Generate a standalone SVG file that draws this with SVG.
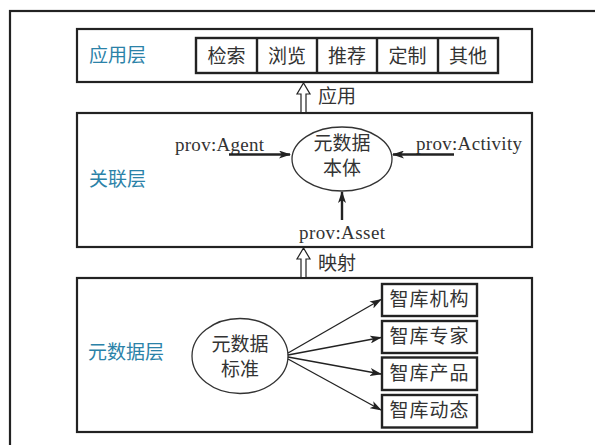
<svg xmlns="http://www.w3.org/2000/svg" width="595" height="445" viewBox="0 0 595 445">
<style>
.frame{fill:none;stroke:#222;stroke-width:2.2}
.box{fill:#fff;stroke:#222;stroke-width:2.4}
.ell{fill:#fff;stroke:#333;stroke-width:1.3}
.cn{font-family:"Noto Sans CJK SC","Noto Sans CJK JP",sans-serif;font-size:19px;fill:#333}
.layer{font-family:"Noto Sans CJK SC","Noto Sans CJK JP",sans-serif;font-size:19px;fill:#2b82a8}
.en{font-family:"Liberation Serif",serif;font-size:19px;fill:#333}
.thick{stroke:#222;stroke-width:2.4;fill:none}
.thin{stroke:#222;stroke-width:1.3;fill:none}
.hollow{fill:#fff;stroke:#222;stroke-width:1.2}
</style>
<defs>
<marker id="ah" viewBox="0 0 12 8" refX="11" refY="4" markerWidth="12" markerHeight="8" markerUnits="userSpaceOnUse" orient="auto">
<path d="M0,0 L12,4 L0,8 L3,4 z" fill="#222"/>
</marker>
</defs>
<rect x="10" y="11" width="600" height="450" class="frame"/>

<g id="app-layer">
<rect x="77" y="29" width="455" height="53" class="frame"/>
<text x="89" y="62" class="layer">应用层</text>
</g>
<g id="app-items">
<rect x="196" y="38" width="302" height="35" class="box"/>
<line x1="257" y1="38" x2="257" y2="73" class="thick"/>
<line x1="317" y1="38" x2="317" y2="73" class="thick"/>
<line x1="377" y1="38" x2="377" y2="73" class="thick"/>
<line x1="438" y1="38" x2="438" y2="73" class="thick"/>
<text x="226.5" y="62.5" class="cn" text-anchor="middle">检索</text>
<text x="287" y="62.5" class="cn" text-anchor="middle">浏览</text>
<text x="347" y="62.5" class="cn" text-anchor="middle">推荐</text>
<text x="407.5" y="62.5" class="cn" text-anchor="middle">定制</text>
<text x="468" y="62.5" class="cn" text-anchor="middle">其他</text>
</g>

<g id="relation-layer">
<rect x="77" y="113" width="455" height="134" class="frame"/>
<text x="89" y="186" class="layer">关联层</text>
</g>
<g id="ontology">
<ellipse cx="342" cy="159" rx="50" ry="32" class="ell"/>
<text x="342" y="150" class="cn" text-anchor="middle">元数据</text>
<text x="342" y="175" class="cn" text-anchor="middle">本体</text>
</g>
<g id="prov-agent"><text x="175" y="151" class="en" textLength="89">prov:Agent</text></g>
<g id="prov-activity"><text x="416" y="150" class="en" textLength="106">prov:Activity</text></g>
<g id="prov-asset"><text x="299" y="239" class="en" textLength="86">prov:Asset</text></g>

<g id="meta-layer">
<rect x="77" y="278" width="455" height="154" class="frame"/>
<text x="88" y="359" class="layer">元数据层</text>
</g>
<g id="standard">
<ellipse cx="240" cy="356" rx="48" ry="37.5" class="ell"/>
<text x="240" y="351" class="cn" text-anchor="middle">元数据</text>
<text x="240" y="376" class="cn" text-anchor="middle">标准</text>
</g>
<g id="t1"><rect x="382" y="284" width="95" height="32" class="box"/><text x="429.5" y="306" class="cn" text-anchor="middle" letter-spacing="1">智库机构</text></g>
<g id="t2"><rect x="382" y="321" width="95" height="32" class="box"/><text x="429.5" y="343" class="cn" text-anchor="middle" letter-spacing="1">智库专家</text></g>
<g id="t3"><rect x="382" y="357.5" width="95" height="32.5" class="box"/><text x="429.5" y="380" class="cn" text-anchor="middle" letter-spacing="1">智库产品</text></g>
<g id="t4"><rect x="382" y="395" width="95" height="32.5" class="box"/><text x="429.5" y="417" class="cn" text-anchor="middle" letter-spacing="1">智库动态</text></g>

<g id="connectors">
<line x1="229" y1="154.5" x2="290" y2="154.5" class="thick" marker-end="url(#ah)"/>
<line x1="454" y1="154.5" x2="393" y2="154.5" class="thick" marker-end="url(#ah)"/>
<line x1="342" y1="220" x2="342" y2="192" class="thick" marker-end="url(#ah)"/>
<line x1="288" y1="353" x2="381" y2="299.5" class="thin" marker-end="url(#ah)"/>
<line x1="288" y1="355" x2="381" y2="337.5" class="thin" marker-end="url(#ah)"/>
<line x1="288" y1="357" x2="381" y2="374" class="thin" marker-end="url(#ah)"/>
<line x1="288" y1="359" x2="381" y2="410" class="thin" marker-end="url(#ah)"/>
<path d="M301,112 L301,94 L297,94 L303.5,83 L310,94 L306,94 L306,112" class="hollow"/>
<text x="318" y="103" class="cn">应用</text>
<path d="M301,277 L301,259 L297,259 L303.5,248 L310,259 L306,259 L306,277" class="hollow"/>
<text x="318" y="270" class="cn">映射</text>
</g>
</svg>
